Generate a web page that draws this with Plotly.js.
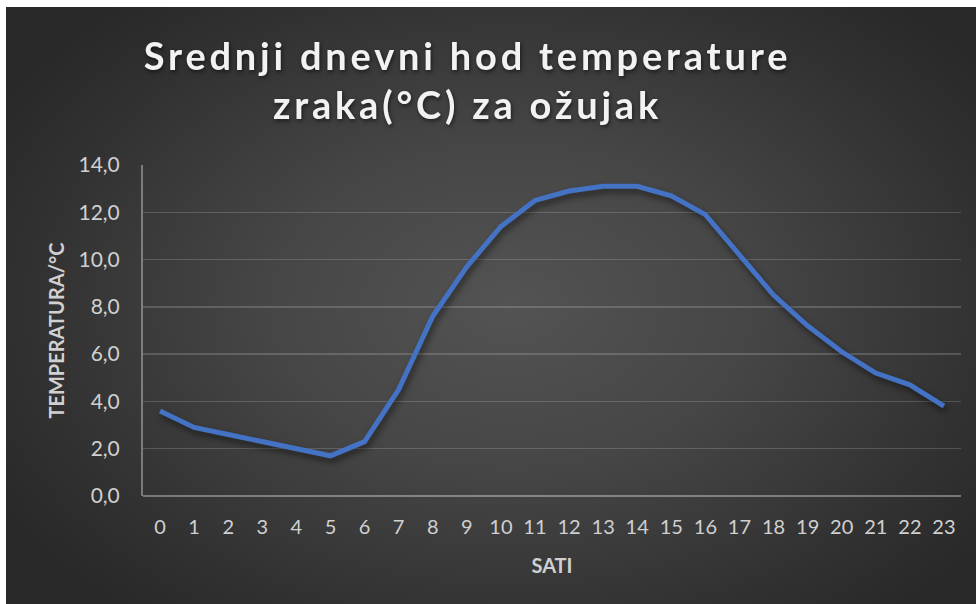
<!DOCTYPE html>
<html>
<head>
<meta charset="utf-8">
<script src="https://cdn.plot.ly/plotly-3.0.1.min.js"></script>
<style>
  html, body { margin:0; padding:0; background:#ffffff; }
  #wrap { position:relative; width:978px; height:604px; background:#ffffff; overflow:hidden; }
  #bg { position:absolute; left:6px; top:7px; width:970px; height:597px;
        background: radial-gradient(ellipse 62% 68% at 52% 50%, #535353 0%, #464646 40%, #313131 80%, #282828 100%); }
  #chart { position:absolute; left:0; top:0; width:978px; height:604px; }
  #chart .gtitle { letter-spacing: 3.8px; filter: drop-shadow(1px 2px 2px rgba(0,0,0,0.55)); }
  #chart .scatterlayer .js-line { filter: drop-shadow(2px 4px 3px rgba(0,0,0,0.5)); }
</style>
</head>
<body>
<div id="wrap">
  <div id="bg"></div>
  <div id="chart"></div>
</div>
<script>
const hours = ["0","1","2","3","4","5","6","7","8","9","10","11","12","13","14","15","16","17","18","19","20","21","22","23"];
const temperature = [3.6, 2.9, 2.6, 2.3, 2.0, 1.7, 2.3, 4.5, 7.6, 9.7, 11.4, 12.5, 12.9, 13.1, 13.1, 12.7, 11.9, 10.2, 8.5, 7.2, 6.1, 5.2, 4.7, 3.8];
const yTicks = [0, 2, 4, 6, 8, 10, 12, 14];
const titleText = "Srednji dnevni hod temperature<br>zraka(°C) za ožujak";
const xTitle = "SATI";
const yTitle = "TEMPERATURA/°C";

const fontFam = "Lato, 'Open Sans', sans-serif";

Plotly.newPlot('chart', [{
  type: 'scatter',
  mode: 'lines',
  x: hours,
  y: temperature,
  line: { color: '#4472C4', width: 5, shape: 'linear' },
  hoverinfo: 'x+y'
}], {
  width: 978, height: 604,
  paper_bgcolor: 'rgba(0,0,0,0)',
  plot_bgcolor: 'rgba(0,0,0,0)',
  separators: ',.',
  showlegend: false,
  margin: { l: 143, r: 17, t: 165, b: 108 },
  title: {
    text: titleText,
    font: { family: fontFam, size: 38, color: '#f2f2f2', weight: 'bold' },
    x: 0.478, xanchor: 'center',
    yref: 'container', y: 0.884, yanchor: 'middle'
  },
  xaxis: {
    type: 'category',
    range: [-0.5, 23.5],
    showgrid: false,
    zeroline: false,
    showline: false,
    ticks: '',
    ticklabelstandoff: 17,
    tickfont: { family: fontFam, size: 20, color: '#d0d0d0' },
    title: { text: xTitle, font: { family: fontFam, size: 20, color: '#d0d0d0', weight: 'bold' }, standoff: 21 }
  },
  yaxis: {
    range: [0, 14],
    tickvals: yTicks,
    tickformat: '.1f',
    showgrid: true,
    gridcolor: 'rgba(255,255,255,0.17)',
    gridwidth: 1.5,
    zeroline: true,
    zerolinecolor: 'rgba(255,255,255,0.35)',
    zerolinewidth: 2,
    showline: true,
    linecolor: 'rgba(255,255,255,0.35)',
    linewidth: 2,
    ticks: '',
    ticklabelstandoff: 17,
    tickfont: { family: fontFam, size: 21, color: '#d0d0d0' },
    title: { text: yTitle, font: { family: fontFam, size: 20, color: '#d0d0d0', weight: 'bold' }, standoff: 8 }
  }
}, { displayModeBar: false, staticPlot: true });
</script>
</body>
</html>
